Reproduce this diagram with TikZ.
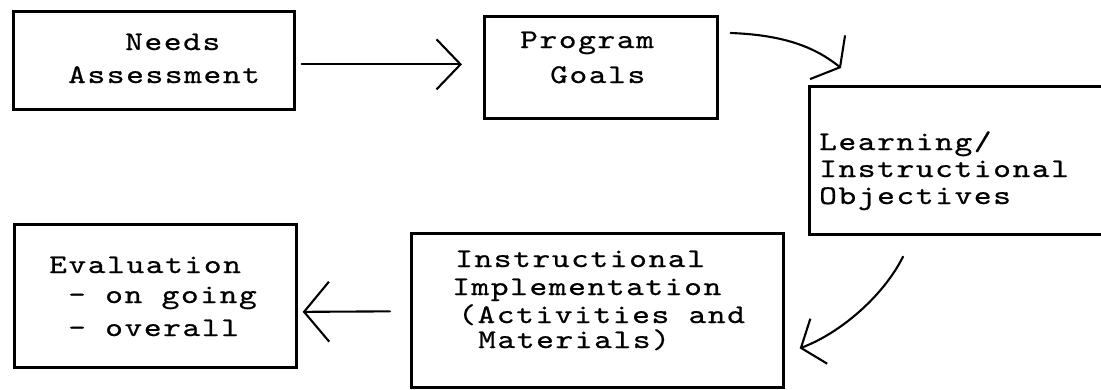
\documentclass[tikz,border=0pt]{standalone}
\usepackage{fontspec}
\newfontfamily\tw{lmmono10-regular.otf}[FakeStretch=1.25, LetterSpace=6, FakeBold=0.7]
\usetikzlibrary{arrows.meta,calc}
\begin{document}
\begin{tikzpicture}[x=1pt,y=-1pt,
  box/.style={draw, line width=2.7pt, rectangle, inner sep=0pt, anchor=north west},
  txt/.style={anchor=base west, inner sep=0pt, font=\tw\fontsize{27}{29}\selectfont},
  conn/.style={line width=2.1pt, line cap=round, line join=round},
  barb/.style 2 args={-{Straight Barb[length=#1pt,width=#2pt]}}
  ]
\useasboundingbox (0,0) rectangle (1101,389);
% boxes
\node[box, minimum width=281, minimum height=98]  (na)  at (12,10) {};
\node[box, minimum width=233, minimum height=102] (pg)  at (483,15) {};
\node[box, minimum width=330, minimum height=148] (lio) at (808,85) {};
\node[box, minimum width=372, minimum height=154] (ii)  at (410,232) {};
\node[box, minimum width=282, minimum height=143] (ev)  at (13,223) {};
% texts
\node[txt] (na1) at (125,50) {Needs};
\node[txt] (na2) at (68,83) {Assessment};
\node[txt] (pg1) at (520,48) {Program};
\node[txt] (pg2) at (550,83) {Goals};
\node[txt] (lio1) at (819,150) {Learning/};
\node[txt] (lio2) at (819,177) {Instructional};
\node[txt] (lio3) at (819,204) {Objectives};
\node[txt] (ii1) at (455,267) {Instructional};
\node[txt] (ii2) at (452,295) {Implementation};
\node[txt] (ii3) at (458,323) {(Activities and};
\node[txt] (ii4) at (478,348) {Materials)};
\node[txt] (ev1) at (49,273) {Evaluation};
\node[txt] (ev2) at (68,303) {- on going};
\node[txt] (ev3) at (68,336) {- overall};
% connectors
\draw[conn, barb={24}{50}] ($(na.east)+(6,4)$) -- ($(pg.west)+(-21,-3)$);
\draw[conn, barb={16}{56}] ($(pg.north east)+(12,18)$) .. controls +(55,2) and +(-25,-20) .. ($(lio.north west)+(33,-17)$);
\draw[conn, barb={19}{48}] ($(lio.south west)+(95,21)$) .. controls +(-20,40) and +(40,-15) .. ($(ii.east)+(15,38)$);
\draw[conn, barb={25}{60}] ($(ii.west)+(-20,1)$) -- ($(ev.east)+(5,16)$);
\end{tikzpicture}
\end{document}
